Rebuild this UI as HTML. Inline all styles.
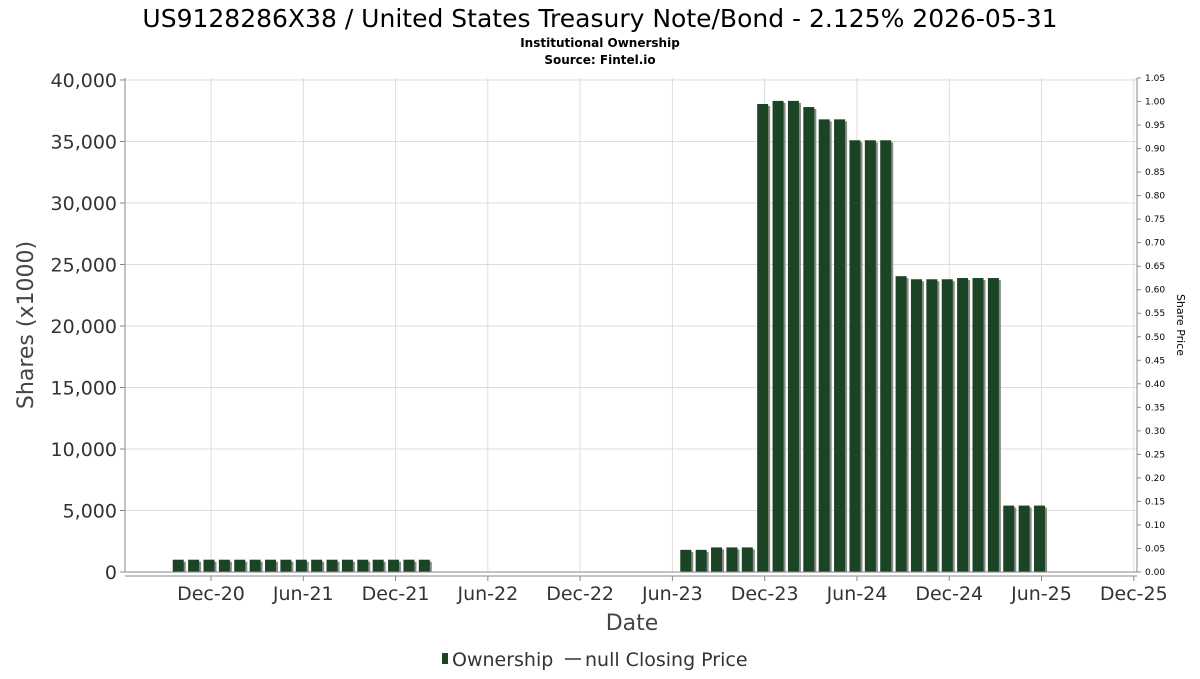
<!DOCTYPE html>
<html><head><meta charset="utf-8"><style>
body{margin:0;background:#fff;font-family:"DejaVu Sans","Liberation Sans",sans-serif}
svg text{font-family:"DejaVu Sans","Liberation Sans",sans-serif}
</style></head><body>
<svg id="c" width="1200" height="675"></svg>
<script>
const categories=["2020-10","2020-11","2020-12","2021-01","2021-02","2021-03","2021-04","2021-05","2021-06","2021-07","2021-08","2021-09","2021-10","2021-11","2021-12","2022-01","2022-02",
"2023-07","2023-08","2023-09","2023-10","2023-11","2023-12","2024-01","2024-02","2024-03","2024-04","2024-05","2024-06","2024-07","2024-08","2024-09","2024-10","2024-11","2024-12","2025-01","2025-02","2025-03","2025-04","2025-05","2025-06","2025-07","2025-08","2025-09"];
const ownership=[1000,1000,1000,1000,1000,1000,1000,1000,1000,1000,1000,1000,1000,1000,1000,1000,1000,
1800,1800,2000,2000,2000,38050,38300,38300,37800,36800,36800,35100,35100,35100,24050,23800,23800,23800,23900,23900,23900,5400,5400,5400,30,30,30];
const yTicks=[0,5000,10000,15000,20000,25000,30000,35000,40000];
const yRightTicks=["0.00","0.05","0.10","0.15","0.20","0.25","0.30","0.35","0.40","0.45","0.50","0.55","0.60","0.65","0.70","0.75","0.80","0.85","0.90","0.95","1.00","1.05"];
const xTicks=["2020-12","2021-06","2021-12","2022-06","2022-12","2023-06","2023-12","2024-06","2024-12","2025-06","2025-12"];
const xTickLabels=["Dec-20","Jun-21","Dec-21","Jun-22","Dec-22","Jun-23","Dec-23","Jun-24","Dec-24","Jun-25","Dec-25"];

const svg=document.getElementById('c');const NS='http://www.w3.org/2000/svg';
function el(t,a,p){const e=document.createElementNS(NS,t);for(const k in a)e.setAttribute(k,a[k]);(p||svg).appendChild(e);return e;}
const L=125,R=1137,T=78,B=572;
const yS=v=>B-(v/40000)*(B-80);
const mi=s=>{const[a,b]=s.split('-').map(Number);return a*12+b-1;};
const x0=mi("2020-12");
const xS=s=>211+(mi(s)-x0)*15.38;
const yR=v=>B-(v/1.05)*(B-78);

let t;
t=el('text',{x:600,y:27,'text-anchor':'middle','font-size':25});t.textContent="US9128286X38 / United States Treasury Note/Bond - 2.125% 2026-05-31";

t=el('text',{x:600,y:47,'text-anchor':'middle','font-size':12,'font-weight':'bold'});t.textContent="Institutional Ownership";

t=el('text',{x:600,y:64,'text-anchor':'middle','font-size':12,'font-weight':'bold'});t.textContent="Source: Fintel.io";


// grid
yTicks.forEach(v=>{const y=yS(v);
 const g=el('line',{x1:L,x2:R,y1:y,y2:y,stroke:'#ddd'});
 el('line',{x1:L-5,x2:L,y1:y,y2:y,stroke:'#888'});
 const tx=el('text',{x:L-8,y:y+7,'text-anchor':'end','font-size':19,fill:'#333'});tx.textContent=v.toLocaleString('en-US');
 });
xTicks.forEach((d,i)=>{const x=xS(d);
 const g=el('line',{x1:x,x2:x,y1:T,y2:B,stroke:'#ddd'});
 el('line',{x1:x,x2:x,y1:B+4,y2:B+9,stroke:'#888'});
 const tx=el('text',{x:x,y:600,'text-anchor':'middle','font-size':19,fill:'#333'});tx.textContent=xTickLabels[i];
 });
yRightTicks.forEach(s=>{const y=yR(parseFloat(s));
 el('line',{x1:R,x2:R+4,y1:y,y2:y,stroke:'#888'});
 const tx=el('text',{x:R+8,y:y+3,'font-size':9,fill:'#000'});tx.textContent=s;
 });

// bars
categories.forEach((c,i)=>{const cx=xS(c)-2,w=11,y=yS(ownership[i]);
 el('rect',{x:cx-w/2+2,y:y+2,width:w,height:B-y-2,fill:'#8a8a8a'});
 const r=el('rect',{x:cx-w/2,y:y,width:w,height:B-y,fill:'#1a4423'});
 });

// axes
el('line',{x1:L,x2:L,y1:T,y2:B,stroke:'#888'});
el('line',{x1:R,x2:R,y1:T,y2:B,stroke:'#888'});
el('line',{x1:L,x2:R,y1:B,y2:B,stroke:'#888'});
el('line',{x1:L,x2:R,y1:B+4,y2:B+4,stroke:'#888'});

t=el('text',{x:33,y:325,'text-anchor':'middle','font-size':22,fill:'#444',transform:'rotate(-90 33 325)'});t.textContent="Shares (x1000)";

t=el('text',{x:1177,y:325,'text-anchor':'middle','font-size':11,fill:'#000',transform:'rotate(90 1177 325)'});t.textContent="Share Price";

t=el('text',{x:632,y:630,'text-anchor':'middle','font-size':22,fill:'#444'});t.textContent="Date";


// legend
const lg=el('g',{});
el('rect',{x:442,y:653,width:6,height:11,fill:'#1a4423'},lg);
t=el('text',{x:452,y:666,'font-size':19,fill:'#333'},lg);t.textContent="Ownership";

el('line',{x1:565,x2:581,y1:659,y2:659,stroke:'#333','stroke-width':1.5},lg);
t=el('text',{x:585,y:666,'font-size':19,fill:'#333'},lg);t.textContent="null Closing Price";

</script>
</body></html>
